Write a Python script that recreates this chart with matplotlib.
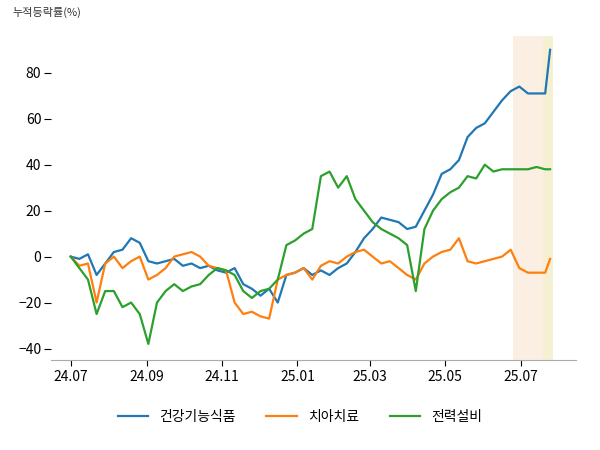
import matplotlib
matplotlib.use("Agg")
import matplotlib.pyplot as plt
import pandas as pd

plt.rcParams["font.family"] = "Noto Sans CJK KR"

dates = list(pd.date_range("2024-07-01", periods=56, freq="7D")) + [pd.Timestamp("2025-07-25")]
health = [0,-1,1,-8,-3,2,3,8,6,-2,
          -3,-2,-1,-4,-3,-5,-4,-6,-7,-5,
          -12,-14,-17,-14,-20,-8,-7,-5,-8,-6,
          -8,-5,-3,2,8,12,17,16,15,12,
          13,20,27,36,38,42,52,56,58,63,
          68,72,74,71,71,71,90]
dental = [0,-4,-3,-20,-3,0,-5,-2,0,-10,
          -8,-5,0,1,2,0,-4,-5,-6,-20,
          -25,-24,-26,-27,-10,-8,-7,-5,-10,-4,
          -2,-3,0,2,3,0,-3,-2,-5,-8,
          -10,-3,0,2,3,8,-2,-3,-2,-1,
          0,3,-5,-7,-7,-7,-1]
power = [0,-5,-10,-25,-15,-15,-22,-20,-25,-38,
         -20,-15,-12,-15,-13,-12,-8,-5,-6,-8,
         -15,-18,-15,-14,-10,5,7,10,12,35,
         37,30,35,25,20,15,12,10,8,5,
         -15,12,20,25,28,30,35,34,40,37,
         38,38,38,38,39,38,38]
names = ["건강기능식품", "치아치료", "전력설비"]
ticks = ["2024-07-01","2024-09-01","2024-11-01","2025-01-01","2025-03-01","2025-05-01","2025-07-01"]
tick_labels = ["24.07","24.09","24.11","25.01","25.03","25.05","25.07"]

fig, ax = plt.subplots(figsize=(6, 4.5), dpi=100)
fig.subplots_adjust(left=0.085, right=0.96, top=0.92, bottom=0.2)
ax.axvspan(pd.Timestamp("2025-06-25"), pd.Timestamp("2025-07-19"), color="#fbefe3", lw=0)
ax.axvspan(pd.Timestamp("2025-07-19"), pd.Timestamp("2025-07-27"), color="#f6f0d3", lw=0)
for s, c, n in zip([health, dental, power], ["#1f77b4", "#ff7f0e", "#2ca02c"], names):
    ax.plot(dates, s, color=c, lw=1.6, label=n)
ax.set_ylim(-45, 96)
ax.set_xlim(pd.Timestamp("2024-06-15"), pd.Timestamp("2025-08-15"))
ax.set_yticks([-40, -20, 0, 20, 40, 60, 80])
ax.set_xticks([pd.Timestamp(t) for t in ticks])
ax.set_xticklabels(tick_labels)
for sp in ["left", "top", "right"]:
    ax.spines[sp].set_visible(False)
ax.spines["bottom"].set_color("#aaaaaa")
ax.tick_params(axis="y", direction="out", length=5, pad=2, labelsize=10)
ax.tick_params(axis="x", length=4, labelsize=10)
fig.text(0.02, 0.965, "누적등락률(%)", fontsize=8, color="#333333")
fig.legend(loc="lower center", ncol=3, frameon=False, bbox_to_anchor=(0.5, 0.03), fontsize=10, handlelength=2.2, columnspacing=2.2)
fig.savefig("out.png")
